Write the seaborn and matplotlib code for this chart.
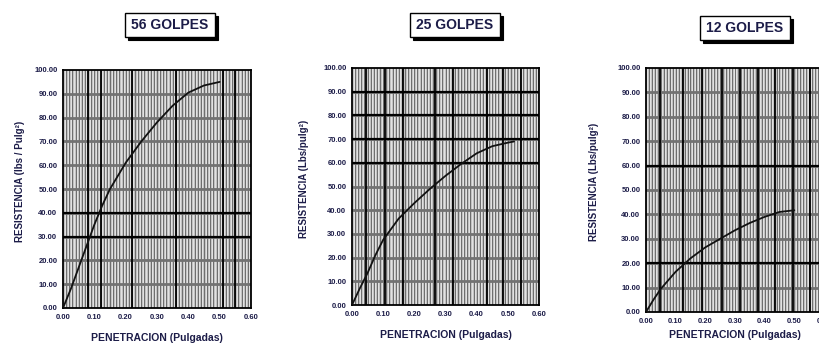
import numpy as np
import pandas as pd
import matplotlib
matplotlib.use("Agg")
import matplotlib.pyplot as plt
import seaborn as sns
from matplotlib.patches import FancyBboxPatch

# Penetration (inches) and resistance readings for each compaction energy
pen_56 = [0.0, 0.025, 0.05, 0.075, 0.10, 0.125, 0.15, 0.20, 0.25, 0.30, 0.35, 0.40, 0.45, 0.50]
res_56 = [0.0, 8.0, 17.0, 26.0, 35.0, 43.0, 50.0, 61.0, 70.0, 78.0, 85.0, 90.5, 93.5, 95.0]

pen_25 = [0.0, 0.025, 0.05, 0.075, 0.10, 0.15, 0.20, 0.25, 0.30, 0.35, 0.40, 0.45, 0.50, 0.52]
res_25 = [0.0, 7.0, 13.5, 21.0, 27.5, 36.5, 43.0, 49.0, 54.5, 59.5, 64.0, 67.0, 68.5, 69.0]

pen_12 = [0.0, 0.025, 0.05, 0.075, 0.10, 0.15, 0.20, 0.25, 0.30, 0.35, 0.40, 0.45, 0.50]
res_12 = [0.0, 5.0, 9.5, 13.0, 16.5, 22.0, 26.5, 30.0, 33.5, 36.5, 39.0, 41.0, 41.7]

titles = ["56 GOLPES", "25 GOLPES", "12 GOLPES"]
ylabels = ["RESISTENCIA (lbs / Pulg²)", "RESISTENCIA (Lbs/pulg²)", "RESISTENCIA (Lbs/pulg²)"]
xlabel = "PENETRACION (Pulgadas)"
x_ticks = [0.0, 0.1, 0.2, 0.3, 0.4, 0.5, 0.6]
y_ticks = [0, 10, 20, 30, 40, 50, 60, 70, 80, 90, 100]

frames = []
for name, p, r in zip(titles, [pen_56, pen_25, pen_12], [res_56, res_25, res_12]):
    frames.append(pd.DataFrame({"penetracion": p, "resistencia": r, "ensayo": name}))
data = pd.concat(frames, ignore_index=True)

sns.set_theme(style="white")
plt.rcParams["font.family"] = ["Liberation Sans", "DejaVu Sans"]

fig = plt.figure(figsize=(8.2, 3.45), dpi=100)
W, H = 820.0, 345.0

# axes boxes in pixels: left, top, width, height
boxes = [(63, 70, 188, 238), (352, 68, 187, 237), (646, 68, 178, 244)]
title_boxes = [(125, 13, 90, 24), (410, 13, 90, 24), (700, 16, 90, 24)]
ylabel_x = [20, 304, 594]
xlabel_pad = [9, 9, 4]
heavy_v = [[0.08, 0.12, 0.22, 0.36, 0.51, 0.55],
           [0.046, 0.107, 0.164, 0.265, 0.325, 0.434, 0.485, 0.543],
           [0.047, 0.126, 0.19, 0.255, 0.317, 0.379, 0.435, 0.494, 0.553]]
heavy_h = [[30, 40], [60, 70, 80, 90], [20, 60]]
text_col = "#1c1c48"

for i, name in enumerate(titles):
    l, t, w, h = boxes[i]
    ax = fig.add_axes([l / W, 1 - (t + h) / H, w / W, h / H])
    ax.set_facecolor("#c2c2c2")
    ax.set_xlim(0, 0.6)
    ax.set_ylim(0, 100)

    # fine chart-paper grid
    for xv in np.arange(0.005, 0.6, 0.01):
        ax.axvline(xv, color="#e2e2e2", lw=0.7, zorder=0.5)
    for xv in np.arange(0.01, 0.6, 0.01):
        ax.axvline(xv, color="#5e5e5e", lw=0.6, zorder=0.6)
    for yv in range(10, 100, 10):
        ax.axhline(yv, color="#727272", lw=2.0, zorder=0.7)
    for xv in heavy_v[i]:
        ax.axvline(xv, color="black", lw=1.3, zorder=0.8)
    for yv in heavy_h[i]:
        ax.axhline(yv, color="black", lw=1.6, zorder=0.8)

    sns.lineplot(data=data[data["ensayo"] == name], x="penetracion", y="resistencia",
                 ax=ax, color="#111111", lw=1.3, zorder=3, legend=False)

    ax.set_xticks(x_ticks)
    ax.set_xticklabels([f"{v:.2f}" for v in x_ticks], fontsize=5.5,
                       fontweight="bold", color=text_col)
    ax.set_yticks(y_ticks)
    ax.set_yticklabels([f"{v:.2f}" for v in y_ticks], fontsize=5.5,
                       fontweight="bold", color=text_col)
    ax.tick_params(length=0, pad=4)
    ax.set_xlabel(xlabel, fontsize=7.5, fontweight="bold", color=text_col,
                  labelpad=xlabel_pad[i])
    ax.set_ylabel("")
    fig.text(ylabel_x[i] / W, 1 - (t + h / 2 - 8) / H, ylabels[i], rotation=90,
             ha="center", va="center", fontsize=7, fontweight="bold", color=text_col)
    for s in ax.spines.values():
        s.set_color("black")
        s.set_linewidth(1.3)
        s.set_visible(True)

    # framed title with drop shadow
    bl, bt, bw, bh = title_boxes[i]
    shadow = FancyBboxPatch(((bl + 3) / W, 1 - (bt + bh + 3) / H), bw / W, bh / H,
                            boxstyle="square,pad=0", transform=fig.transFigure,
                            facecolor="black", edgecolor="black", lw=0.8)
    box = FancyBboxPatch((bl / W, 1 - (bt + bh) / H), bw / W, bh / H,
                         boxstyle="square,pad=0", transform=fig.transFigure,
                         facecolor="white", edgecolor="black", lw=1.0)
    fig.add_artist(shadow)
    fig.add_artist(box)
    fig.text((bl + bw / 2) / W, 1 - (bt + bh / 2) / H, name, ha="center", va="center",
             fontsize=10, fontweight="bold", color=text_col)

fig.savefig("out.png", dpi=100, facecolor="white")
